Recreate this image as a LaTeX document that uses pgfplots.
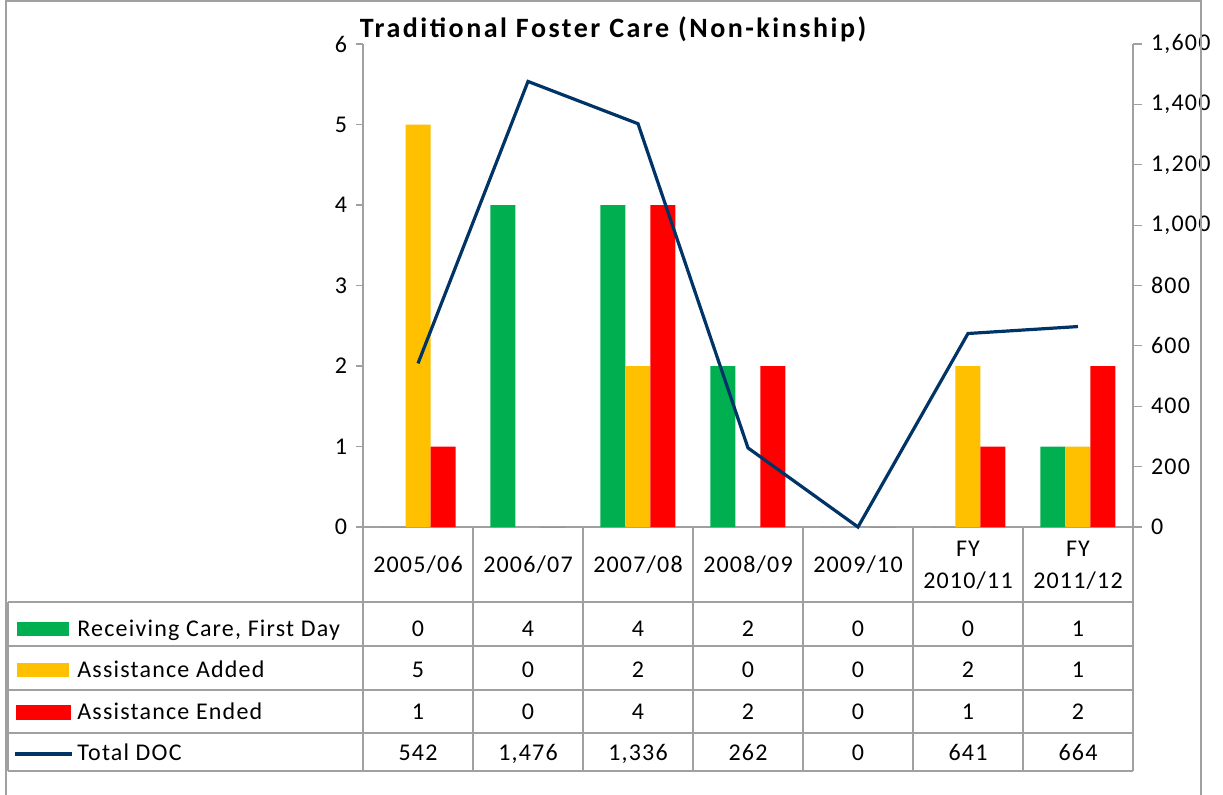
\documentclass[border=0pt]{standalone}
\usepackage{fontspec}
\setmainfont{Carlito}[LetterSpace=5]
\usepackage{pgfplots}
\usepackage{pgfplotstable}
\pgfplotsset{compat=1.18}

\definecolor{cgreen}{RGB}{0,176,80}
\definecolor{cyellow}{RGB}{255,192,0}
\definecolor{cred}{RGB}{255,0,0}
\definecolor{cnavy}{RGB}{0,51,102}
\definecolor{cgray}{RGB}{160,160,160}

\pgfplotstableread{
x recv added ended doc
0 0 5 1 542
1 4 0 0 1476
2 4 2 4 1336
3 2 0 2 262
4 0 0 0 0
5 0 2 1 641
6 1 1 2 664
}\data

\newcommand{\tfont}{\fontsize{12}{16}\selectfont}

\begin{document}
\begin{tikzpicture}
\useasboundingbox (0,0) rectangle (611.5pt,-397pt);
\fill[white] (0,0) rectangle (611.5pt,-397pt);

\begin{axis}[
  at={(181.5pt,-263.5pt)}, anchor=south west,
  scale only axis, width=385pt, height=241.5pt,
  xmin=-0.5, xmax=6.5, ymin=0, ymax=6,
  axis y line*=left, axis x line*=bottom,
  axis line style={cgray, line width=0.6pt, -},
  xtick=\empty, ytick={0,1,...,6},
  tick align=outside, major tick length=3.5pt,
  tick style={cgray, line width=0.6pt},
  ticklabel style={font=\tfont},
  yticklabel style={xshift=-1pt},
  /pgf/number format/assume math mode=true,
  ybar=0pt, bar width=12.5pt,
  clip=false,
]
\addplot[fill=cgreen, draw=none] table[x=x,y=recv]{\data};
\addplot[fill=cyellow, draw=none] table[x=x,y=added]{\data};
\addplot[fill=cred, draw=none] table[x=x,y=ended]{\data};
\end{axis}

\begin{axis}[
  at={(181.5pt,-263.5pt)}, anchor=south west,
  scale only axis, width=385pt, height=241.5pt,
  xmin=-0.5, xmax=6.5, ymin=0, ymax=1600,
  axis y line*=right, axis x line=none,
  axis line style={cgray, line width=0.6pt, -},
  ytick={0,200,...,1600},
  tick align=outside, major tick length=4.5pt,
  tick style={cgray, line width=0.6pt},
  ticklabel style={font=\tfont},
  yticklabel style={xshift=1pt},
  /pgf/number format/assume math mode=true,
  /pgf/number format/1000 sep={,},
  clip=false,
]
\addplot[cnavy, line width=1.6pt, mark=none] table[x=x,y=doc]{\data};
\end{axis}

\begin{scope}[x=0.5pt,y=-0.5pt]
\draw[cgray, line width=0.8pt] (6,800) -- (6,1) -- (1201,1) -- (1201,800);
\node[font=\bfseries\fontsize{14}{16}\selectfont\addfontfeature{LetterSpace=9}] at (613,29) {Traditional Foster Care (Non-kinship)};
% table grid
\begin{scope}[cgray, line width=0.6pt]
\foreach \i in {0,...,7} { \draw (363+110*\i,527) -- (363+110*\i,771); }
\draw (8,602) -- (8,771);
\foreach \yy in {602,646,690,733,771} { \draw (8,\yy) -- (1133,\yy); }
\end{scope}
% header
\foreach \lab [count=\i from 0] in {2005/06,2006/07,2007/08,2008/09,2009/10} {
  \node[font=\tfont] at (418+110*\i,565) {\lab};
}
\node[font=\tfont, align=center] at (968,565) {FY\\2010/11};
\node[font=\tfont, align=center] at (1078,565) {FY\\2011/12};
% legend column
\fill[cgreen] (17,622) rectangle (69,636);
\fill[cyellow] (17,663) rectangle (69,677);
\fill[cred] (16,705) rectangle (71,720);
\draw[cnavy, line width=1.6pt] (15,754) -- (72,754);
\node[font=\tfont, anchor=base west, inner sep=0pt] at (77,636.5) {Receiving Care, First Day};
\node[font=\tfont, anchor=base west, inner sep=0pt] at (77,677.5) {Assistance Added};
\node[font=\tfont, anchor=base west, inner sep=0pt] at (77,719.5) {Assistance Ended};
\node[font=\tfont, anchor=base west, inner sep=0pt] at (77,760.5) {Total DOC};
% values
\foreach \v [count=\i from 0] in {0,4,4,2,0,0,1} { \node[font=\tfont, anchor=base, inner sep=0pt] at (418+110*\i,636.5) {\v}; }
\foreach \v [count=\i from 0] in {5,0,2,0,0,2,1} { \node[font=\tfont, anchor=base, inner sep=0pt] at (418+110*\i,677.5) {\v}; }
\foreach \v [count=\i from 0] in {1,0,4,2,0,1,2} { \node[font=\tfont, anchor=base, inner sep=0pt] at (418+110*\i,719.5) {\v}; }
\foreach \v [count=\i from 0] in {542,{1,476},{1,336},262,0,641,664} { \node[font=\tfont, anchor=base, inner sep=0pt] at (418+110*\i,760.5) {\v}; }
\end{scope}
\end{tikzpicture}
\end{document}
